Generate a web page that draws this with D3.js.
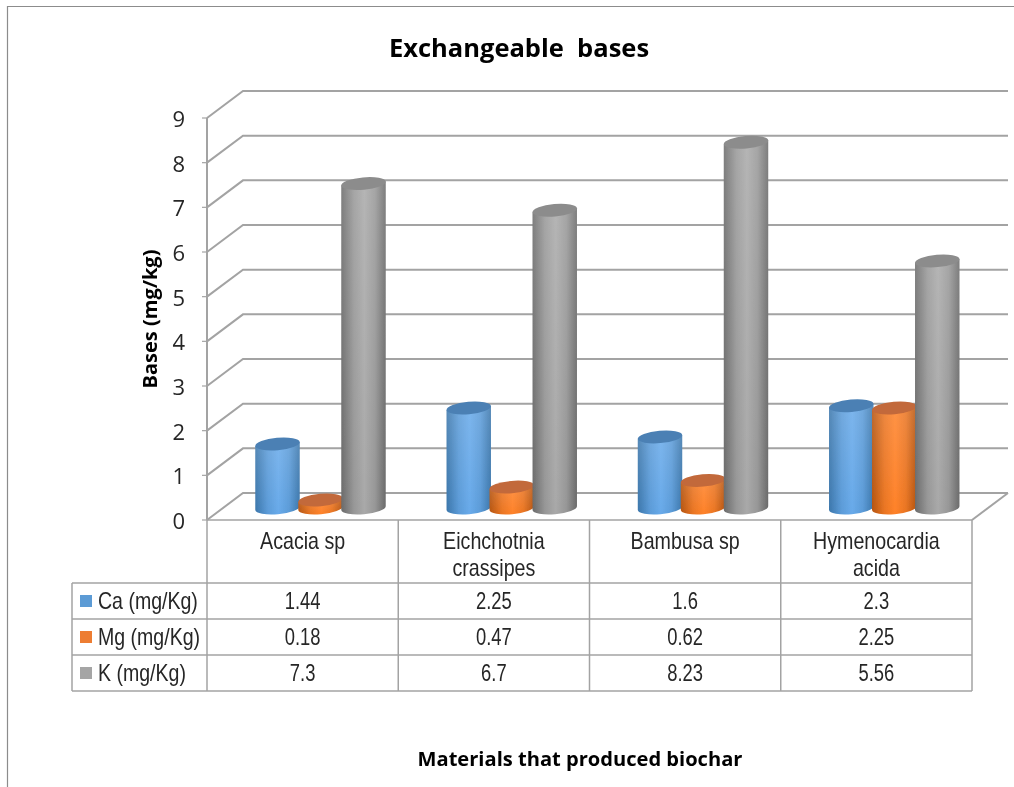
<!DOCTYPE html>
<html>
<head>
<meta charset="utf-8">
<script src="https://cdn.jsdelivr.net/npm/d3@7/dist/d3.min.js"></script>
<style>
  html, body { margin: 0; padding: 0; background: #fff; }
  svg { display: block; }
  text { white-space: pre; }
</style>
</head>
<body>
<div id="chart"></div>
<script>
var w = 1014;
var h = 787;

var categories = ["Acacia sp", "Eichchotnia crassipes", "Bambusa sp", "Hymenocardia acida"];
var categoryLines = [["Acacia sp"], ["Eichchotnia", "crassipes"], ["Bambusa sp"], ["Hymenocardia", "acida"]];
var seriesNames = ["Ca (mg/Kg)", "Mg (mg/Kg)", "K (mg/Kg)"];
var caValues = [1.44, 2.25, 1.6, 2.3];
var mgValues = [0.18, 0.47, 0.62, 2.25];
var kValues = [7.3, 6.7, 8.23, 5.56];
var caLabels = ["1.44", "2.25", "1.6", "2.3"];
var mgLabels = ["0.18", "0.47", "0.62", "2.25"];
var kLabels = ["7.3", "6.7", "8.23", "5.56"];
var yTicks = [0, 1, 2, 3, 4, 5, 6, 7, 8, 9];

var seriesValues = [caValues, mgValues, kValues];
var seriesLabels = [caLabels, mgLabels, kLabels];

var colors = [
  { edge: "#3b76ab", mid: "#68aaea", top: "#4b80b4", key: "#5b9bd5" },
  { edge: "#b4530f", mid: "#ff8229", top: "#c2693a", key: "#ed7d31" },
  { edge: "#6a6a6a", mid: "#a9a9a9", top: "#8c8c8c", key: "#a5a5a5" }
];

var lineColor = "#a3a3a3";
var depthX = 36;
var depthY = -27;
var left = 207;
var right = 972;
var tableLeft = 72;
var rowEdges = [520, 583, 619, 655, 691];

var svg = d3.select("#chart").append("svg").attr("width", w).attr("height", h);

// scales
var x = d3.scaleBand().domain(categories).range([left, right]);
var xSeries = d3.scaleBand().domain(seriesNames).range([49, 178]);
var y = d3.scaleLinear().domain([0, 9]).range([520, 118]);
var yBar = d3.scaleLinear().domain([0, 9]).range([508, 108]);

// gradients
var defs = svg.append("defs");
colors.forEach(function (c, i) {
  var g = defs.append("linearGradient").attr("id", "cyl" + i);
  g.append("stop").attr("offset", "0%").attr("stop-color", c.edge);
  g.append("stop").attr("offset", "28%").attr("stop-color", d3.interpolateRgb(c.edge, c.mid)(0.72));
  g.append("stop").attr("offset", "52%").attr("stop-color", c.mid);
  g.append("stop").attr("offset", "76%").attr("stop-color", d3.interpolateRgb(c.edge, c.mid)(0.72));
  g.append("stop").attr("offset", "100%").attr("stop-color", c.edge);
});
var shine = defs.append("linearGradient").attr("id", "shine").attr("x2", 0).attr("y2", 1);
shine.append("stop").attr("offset", "0%").attr("stop-color", "#fff").attr("stop-opacity", 0.14);
shine.append("stop").attr("offset", "100%").attr("stop-color", "#fff").attr("stop-opacity", 0);
defs.append("filter").attr("id", "soft")
  .attr("filterUnits", "userSpaceOnUse")
  .attr("x", 0).attr("y", 0).attr("width", w).attr("height", h)
  .append("feGaussianBlur").attr("stdDeviation", 0.45);

var root = svg.append("g").attr("filter", "url(#soft)");

// outer frame
root.append("path")
  .attr("d", "M7.5," + h + "V6.5H" + w)
  .attr("fill", "none")
  .attr("stroke", "#8c8c8c")
  .attr("stroke-width", 1.2);

// walls and gridlines
var grid = root.append("g").attr("fill", "none").attr("stroke", lineColor).attr("stroke-width", 2);
grid.selectAll("path.gridline")
  .data(yTicks)
  .enter()
  .append("path")
  .attr("class", "gridline")
  .attr("d", function (d) {
    return "M" + left + "," + y(d) + "L" + (left + depthX) + "," + (y(d) + depthY) + "H" + (right + depthX);
  });
grid.append("path").attr("d", "M" + left + "," + y(9) + "V" + y(0));
grid.append("path").attr("d", "M" + right + "," + y(0) + "L" + (right + depthX) + "," + (y(0) + depthY));
grid.selectAll("path.tick")
  .data(yTicks)
  .enter()
  .append("path")
  .attr("class", "tick")
  .attr("stroke-width", 1.2)
  .attr("d", function (d) { return "M" + (left - 5) + "," + y(d) + "H" + left; });

root.selectAll("text.ytick")
  .data(yTicks)
  .enter()
  .append("text")
  .attr("class", "ytick")
  .attr("x", 185)
  .attr("y", function (d) { return y(d) + 9; })
  .attr("text-anchor", "end")
  .attr("font-family", "Open Sans")
  .attr("font-size", 22)
  .attr("fill", "#262626")
  .text(function (d) { return d; });

// cylinders
var rx = 22.3;
var ry = 6.2;
var tilt = 5;
function cylinderBody(cx, yTop, yBase) {
  var dx = rx * Math.cos(tilt * Math.PI / 180);
  var dy = rx * Math.sin(tilt * Math.PI / 180);
  return "M" + (cx - dx) + "," + (yTop + dy) +
    "L" + (cx - dx) + "," + (yBase + dy) +
    "A" + rx + "," + ry + " " + (-tilt) + " 0 0 " + (cx + dx) + "," + (yBase - dy) +
    "L" + (cx + dx) + "," + (yTop - dy) + "Z";
}

seriesNames.forEach(function (name, s) {
  var group = root.append("g");
  var rows = categories.map(function (c, i) {
    return { cat: c, value: seriesValues[s][i] };
  });
  var cx = function (d) { return x(d.cat) + xSeries(name) + xSeries.bandwidth() / 2; };
  var body = function (d) { return cylinderBody(cx(d), yBar(d.value), yBar(0)); };
  group.selectAll("path.body")
    .data(rows)
    .enter()
    .append("path")
    .attr("class", "body")
    .attr("d", body)
    .attr("fill", "url(#cyl" + s + ")");
  group.selectAll("path.shine")
    .data(rows)
    .enter()
    .append("path")
    .attr("class", "shine")
    .attr("d", body)
    .attr("fill", "url(#shine)");
  group.selectAll("ellipse")
    .data(rows)
    .enter()
    .append("ellipse")
    .attr("rx", rx)
    .attr("ry", ry)
    .attr("transform", function (d) {
      return "translate(" + cx(d) + "," + yBar(d.value) + ") rotate(" + (-tilt) + ")";
    })
    .attr("fill", colors[s].top);
});

// data table
var table = root.append("g").attr("fill", "none").attr("stroke", lineColor).attr("stroke-width", 1.5);
rowEdges.forEach(function (ry0, i) {
  table.append("path").attr("d", "M" + (i === 0 ? left : tableLeft) + "," + ry0 + "H" + right);
});
table.append("path").attr("d", "M" + tableLeft + "," + rowEdges[1] + "V" + rowEdges[4]);
categories.concat(["end"]).forEach(function (c, i) {
  var px = i < categories.length ? x(c) : right;
  table.append("path").attr("d", "M" + px + "," + rowEdges[0] + "V" + rowEdges[4]);
});

function tableText(tx, ty, label, anchor, squeeze) {
  root.append("text")
    .attr("transform", "translate(" + tx + "," + ty + ") scale(" + squeeze + ",1)")
    .attr("text-anchor", anchor)
    .attr("font-family", "Liberation Sans")
    .attr("font-size", 23)
    .attr("fill", "#262626")
    .text(label);
}

categoryLines.forEach(function (lines, i) {
  lines.forEach(function (line, j) {
    tableText(x(categories[i]) + x.bandwidth() / 2, 549 + j * 27, line, "middle", 0.855);
  });
});

seriesNames.forEach(function (name, s) {
  var top = rowEdges[s + 1];
  var mid = (top + rowEdges[s + 2]) / 2;
  root.append("rect")
    .attr("x", 80).attr("y", mid - 6)
    .attr("width", 12).attr("height", 12)
    .attr("fill", colors[s].key);
  tableText(98, mid + 7.5, name, "start", 0.85);
  categories.forEach(function (c, i) {
    tableText(x(c) + x.bandwidth() / 2, mid + 7.5, seriesLabels[s][i], "middle", 0.8);
  });
});

// titles
root.append("text")
  .attr("x", 519).attr("y", 57)
  .attr("text-anchor", "middle")
  .attr("font-family", "Open Sans")
  .attr("font-weight", "bold")
  .attr("font-size", 25.5)
  .attr("fill", "#000")
  .text("Exchangeable  bases");

root.append("text")
  .attr("transform", "translate(157,319) rotate(-90)")
  .attr("text-anchor", "middle")
  .attr("font-family", "Open Sans")
  .attr("font-weight", "bold")
  .attr("font-size", 20)
  .attr("fill", "#000")
  .text("Bases (mg/kg)");

root.append("text")
  .attr("x", 580).attr("y", 766)
  .attr("text-anchor", "middle")
  .attr("font-family", "Open Sans")
  .attr("font-weight", "bold")
  .attr("font-size", 20.1)
  .attr("fill", "#000")
  .text("Materials that produced biochar");
</script>
</body>
</html>
